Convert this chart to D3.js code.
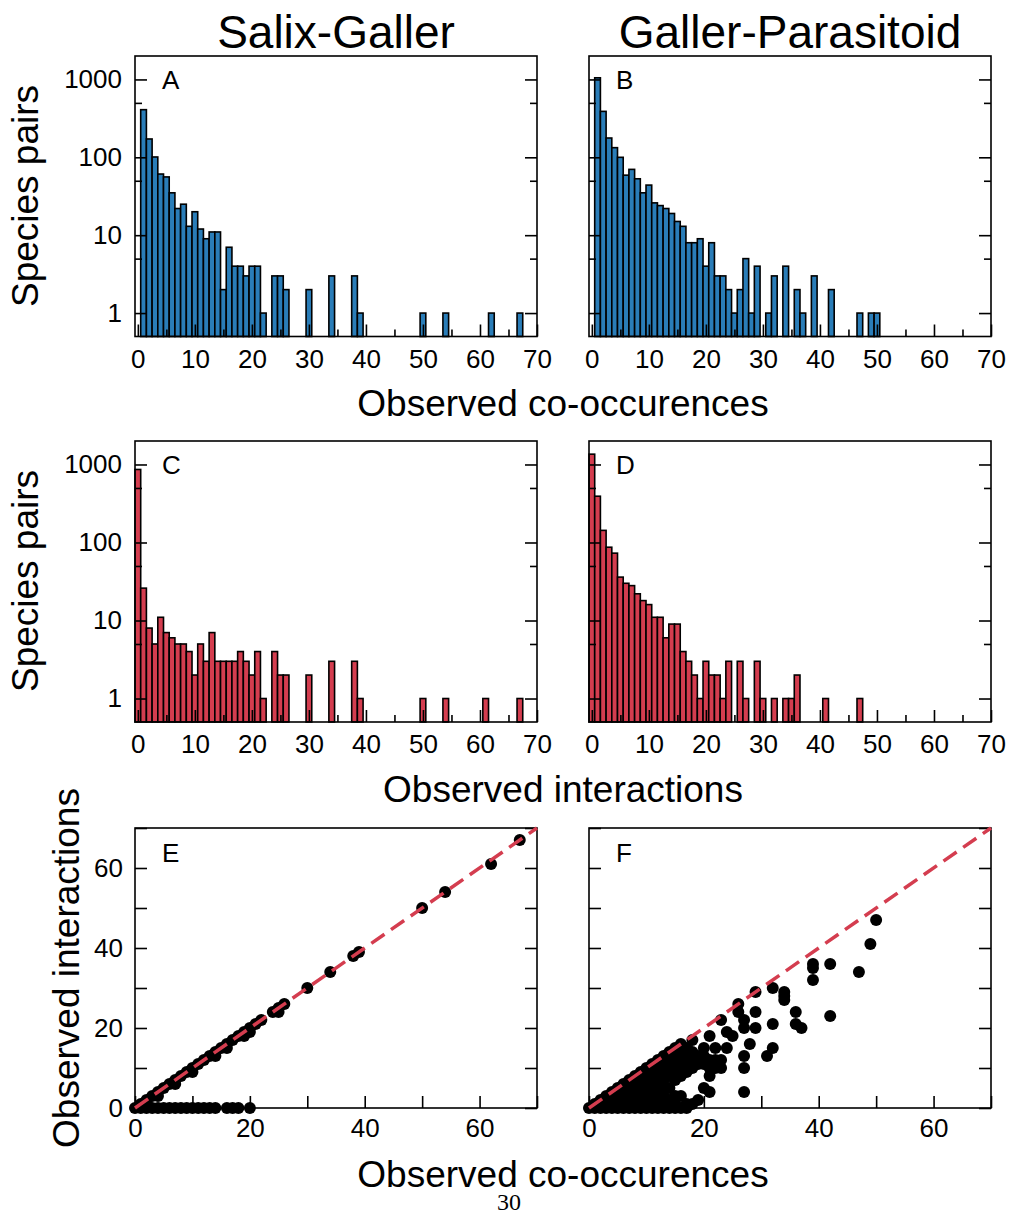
<!DOCTYPE html>
<html>
<head>
<meta charset="utf-8">
<script src="https://cdn.jsdelivr.net/npm/d3@7"></script>
<style>
  body { margin: 0; background: #fff; }
  svg { display: block; font-family: "Liberation Sans", Arial, Helvetica, sans-serif; }
</style>
</head>
<body>
<svg id="chart" width="1009" height="1215"></svg>
<script>
// ---- data ----
// histograms: [value, number of species pairs]
const salixCooc = [[1,409],[2,172],[3,101],[4,61],[5,56],[6,35],[7,22],[8,25],[9,13],[10,20],[11,12],[12,9],[13,11],[14,11],[15,2],[16,7],[17,4],[18,4],[19,3],[20,4],[21,4],[22,1],[24,3],[25,3],[26,2],[30,2],[34,3],[38,3],[39,1],[50,1],[54,1],[62,1],[67,1]];
const parasCooc = [[1,1050],[2,389],[3,177],[4,133],[5,100],[6,59],[7,70],[8,53],[9,35],[10,44],[11,26],[12,24],[13,22],[14,19],[15,15],[16,13],[17,8],[18,8],[19,9],[20,4],[21,8],[22,3],[23,3],[24,2],[25,1],[26,2],[27,5],[28,1],[29,4],[31,1],[32,3],[34,4],[36,2],[37,1],[39,3],[42,2],[47,1],[49,1],[50,1]];
const salixInter = [[0,863],[1,26],[2,8],[3,5],[4,11],[5,7],[6,6],[7,5],[8,5],[9,4],[10,2],[11,5],[12,3],[13,7],[14,3],[15,3],[16,3],[17,3],[18,4],[19,3],[20,2],[21,4],[22,1],[24,4],[25,2],[26,2],[30,2],[34,3],[38,3],[39,1],[50,1],[54,1],[61,1],[67,1]];
const parasInter = [[0,1356],[1,392],[2,143],[3,87],[4,73],[5,36],[6,30],[7,28],[8,22],[9,18],[10,16],[11,11],[12,11],[13,6],[14,9],[15,9],[16,4],[17,3],[18,2],[19,1],[20,3],[21,2],[22,2],[23,1],[24,3],[26,3],[27,1],[29,3],[30,1],[32,1],[34,1],[35,1],[36,2],[41,1],[47,1]];

// scatter: [co-occurences, interactions]
const salixPairs = [[0,0],[1,0],[2,0],[3,0],[4,0],[5,0],[6,0],[7,0],[8,0],[9,0],[10,0],[11,0],[12,0],[13,0],[14,0],[16,0],[17,0],[18,0],[20,0],
  [1,1],[2,2],[2,1],[3,3],[4,4],[4,3],[5,5],[6,6],[7,7],[7,6],[8,8],[9,9],[10,10],[10,9],[11,11],[12,12],[13,13],[14,14],[14,13],[15,15],[16,16],[16,15],[17,17],[18,18],[19,19],[19,18],[20,20],[20,19],[21,21],[22,22],[24,24],[25,24],[25,25],[26,26],
  [30,30],[34,34],[38,38],[39,39],[50,50],[54,54],[62,61],[67,67]];
const parasPairs = [[0,0],[1,0],[1,1],[2,0],[2,1],[2,2],[3,0],[3,1],[3,2],[3,3],[4,0],[4,2],[4,4],[5,0],[5,1],[5,3],[5,5],[6,0],[6,2],[6,4],[6,6],
  [7,0],[7,1],[7,3],[7,5],[7,7],[8,0],[8,2],[8,4],[8,6],[8,8],[9,0],[9,1],[9,3],[9,5],[9,7],[9,9],[10,0],[10,2],[10,4],[10,6],[10,8],[10,10],
  [11,0],[11,1],[11,3],[11,5],[11,7],[11,9],[11,11],[12,0],[12,2],[12,4],[12,6],[12,8],[12,10],[12,12],[13,0],[13,1],[13,3],[13,5],[13,7],[13,9],[13,11],[13,13],
  [14,0],[14,2],[14,5],[14,8],[14,10],[14,12],[14,14],[15,0],[15,1],[15,3],[15,7],[15,9],[15,11],[15,13],[15,15],[16,0],[16,3],[16,8],[16,10],[16,12],[16,14],[16,16],
  [17,0],[17,1],[17,9],[17,11],[17,13],[17,15],[18,1],[18,10],[18,12],[18,14],[18,17],[19,2],[19,11],[19,13],[20,5],[20,11],[20,13],[20,15],
  [21,4],[21,8],[21,10],[21,12],[21,18],[22,10],[22,12],[22,15],[23,10],[23,12],[23,22],[24,15],[24,19],[25,18],
  [26,24],[26,26],[27,4],[27,10],[27,13],[27,20],[27,22],[28,16],[29,20],[29,24],[29,29],[31,13],[32,15],[32,21],[32,30],
  [34,27],[34,28],[34,29],[36,21],[36,24],[37,20],[39,32],[39,35],[39,36],[42,23],[42,36],[47,34],[49,41],[50,47]];

const columnTitles = ["Salix-Galler", "Galler-Parasitoid"];
const histYTicks = [1, 10, 100, 1000];
const histYMinor = [5, 50, 500];
const histXTicks = [0, 10, 20, 30, 40, 50, 60, 70];
const histXMinor = [5, 15, 25, 35, 45, 55, 65];
const scatTicks = [0, 10, 20, 30, 40, 50, 60, 70];
const scatLabels = [0, 20, 40, 60];

const blue = "#2a7db8";
const red = "#d43d4f";

// ---- layout ----
const svg = d3.select("#chart");
const cols = [[135, 537], [589, 991]];
const rows = [[56, 336.5], [441, 722], [828, 1108]];

function frame(g, c, r) {
  g.append("rect")
    .attr("x", c[0]).attr("y", r[0])
    .attr("width", c[1] - c[0]).attr("height", r[1] - r[0])
    .attr("fill", "none").attr("stroke", "#000").attr("stroke-width", 1.6);
}

function styleAxis(a) {
  a.select(".domain").remove();
  a.selectAll("line").attr("stroke", "#000").attr("stroke-width", 1.6);
  a.selectAll("text").attr("font-size", 26).attr("fill", "#000")
    .attr("font-family", "'Liberation Sans', Arial, sans-serif");
}

function hist(ci, ri, data, color, letter, yLabels) {
  const c = cols[ci], r = rows[ri];
  const g = svg.append("g");
  const x = d3.scaleLinear().domain([-0.5, 70]).range(c);
  const y = d3.scaleLog().domain([0.5, 2000]).range([r[1], r[0]]);

  g.selectAll("rect.bar").data(data).join("rect")
    .attr("class", "bar")
    .attr("x", d => x(d[0] - 0.5))
    .attr("width", d => x(d[0] + 0.5) - x(d[0] - 0.5))
    .attr("y", d => y(d[1]))
    .attr("height", d => y(0.5) - y(d[1]))
    .attr("fill", color).attr("stroke", "#000").attr("stroke-width", 1.6);

  frame(g, c, r);

  g.append("g").attr("transform", `translate(${c[0]},0)`)
    .call(d3.axisLeft(y).tickValues(histYTicks).tickSize(-12).tickPadding(13)
      .tickFormat(yLabels ? d3.format("d") : ""))
    .call(styleAxis);
  g.append("g").attr("transform", `translate(${c[0]},0)`)
    .call(d3.axisLeft(y).tickValues(histYMinor).tickSize(-7).tickFormat(""))
    .call(styleAxis);
  g.append("g").attr("transform", `translate(${c[1]},0)`)
    .call(d3.axisRight(y).tickValues(histYTicks).tickSize(-12).tickFormat(""))
    .call(styleAxis);
  g.append("g").attr("transform", `translate(${c[1]},0)`)
    .call(d3.axisRight(y).tickValues(histYMinor).tickSize(-7).tickFormat(""))
    .call(styleAxis);
  g.append("g").attr("transform", `translate(0,${r[1]})`)
    .call(d3.axisBottom(x).tickValues(histXTicks).tickSize(-12).tickPadding(13).tickFormat(d3.format("d")))
    .call(styleAxis);
  g.append("g").attr("transform", `translate(0,${r[1]})`)
    .call(d3.axisBottom(x).tickValues(histXMinor).tickSize(-7).tickFormat(""))
    .call(styleAxis);

  g.append("text").attr("x", c[0] + 27).attr("y", r[0] + 33)
    .attr("font-size", 26).text(letter);
}

function scatter(ci, ri, data, letter, yLabels) {
  const c = cols[ci], r = rows[ri];
  const g = svg.append("g");
  const x = d3.scaleLinear().domain([0, 70]).range(c);
  const y = d3.scaleLinear().domain([0, 70]).range([r[1], r[0]]);

  frame(g, c, r);

  const fmt = d => (scatLabels.includes(d) ? d : "");
  g.append("g").attr("transform", `translate(${c[0]},0)`)
    .call(d3.axisLeft(y).tickValues(scatTicks).tickSize(-12).tickPadding(12)
      .tickFormat(yLabels ? fmt : ""))
    .call(styleAxis);
  g.append("g").attr("transform", `translate(${c[1]},0)`)
    .call(d3.axisRight(y).tickValues(scatTicks).tickSize(-12).tickFormat(""))
    .call(styleAxis);
  g.append("g").attr("transform", `translate(0,${r[1]})`)
    .call(d3.axisBottom(x).tickValues(scatTicks).tickSize(-12).tickPadding(11).tickFormat(fmt))
    .call(styleAxis);

  g.selectAll("circle").data(data).join("circle")
    .attr("cx", d => x(d[0])).attr("cy", d => y(d[1])).attr("r", 6)
    .attr("fill", "#000");

  g.append("line")
    .attr("x1", x(0)).attr("y1", y(0)).attr("x2", x(70)).attr("y2", y(70))
    .attr("stroke", red).attr("stroke-width", 3.5).attr("stroke-dasharray", "16,8");

  g.append("text").attr("x", c[0] + 27).attr("y", r[0] + 34)
    .attr("font-size", 26).text(letter);
}

hist(0, 0, salixCooc, blue, "A", true);
hist(1, 0, parasCooc, blue, "B", false);
hist(0, 1, salixInter, red, "C", true);
hist(1, 1, parasInter, red, "D", false);
scatter(0, 2, salixPairs, "E", true);
scatter(1, 2, parasPairs, "F", false);

// titles and axis labels
columnTitles.forEach((t, i) => {
  svg.append("text").attr("x", (cols[i][0] + cols[i][1]) / 2).attr("y", 48)
    .attr("text-anchor", "middle").attr("font-size", 46).text(t);
});
const xLabels = [["Observed co-occurences", 416], ["Observed interactions", 802], ["Observed co-occurences", 1187]];
xLabels.forEach(([t, yy]) => {
  svg.append("text").attr("x", 563).attr("y", yy)
    .attr("text-anchor", "middle").attr("font-size", 37).text(t);
});
const yTitles = [["Species pairs", 38, 196], ["Species pairs", 38, 581], ["Observed interactions", 79, 968]];
yTitles.forEach(([t, xx, yy]) => {
  svg.append("text").attr("transform", `translate(${xx},${yy}) rotate(-90)`)
    .attr("text-anchor", "middle").attr("font-size", 37).text(t);
});

svg.append("text").attr("x", 509).attr("y", 1210).attr("text-anchor", "middle")
  .attr("font-family", "'Liberation Serif', 'DejaVu Serif', serif")
  .attr("font-size", 24).text("30");
</script>
</body>
</html>
